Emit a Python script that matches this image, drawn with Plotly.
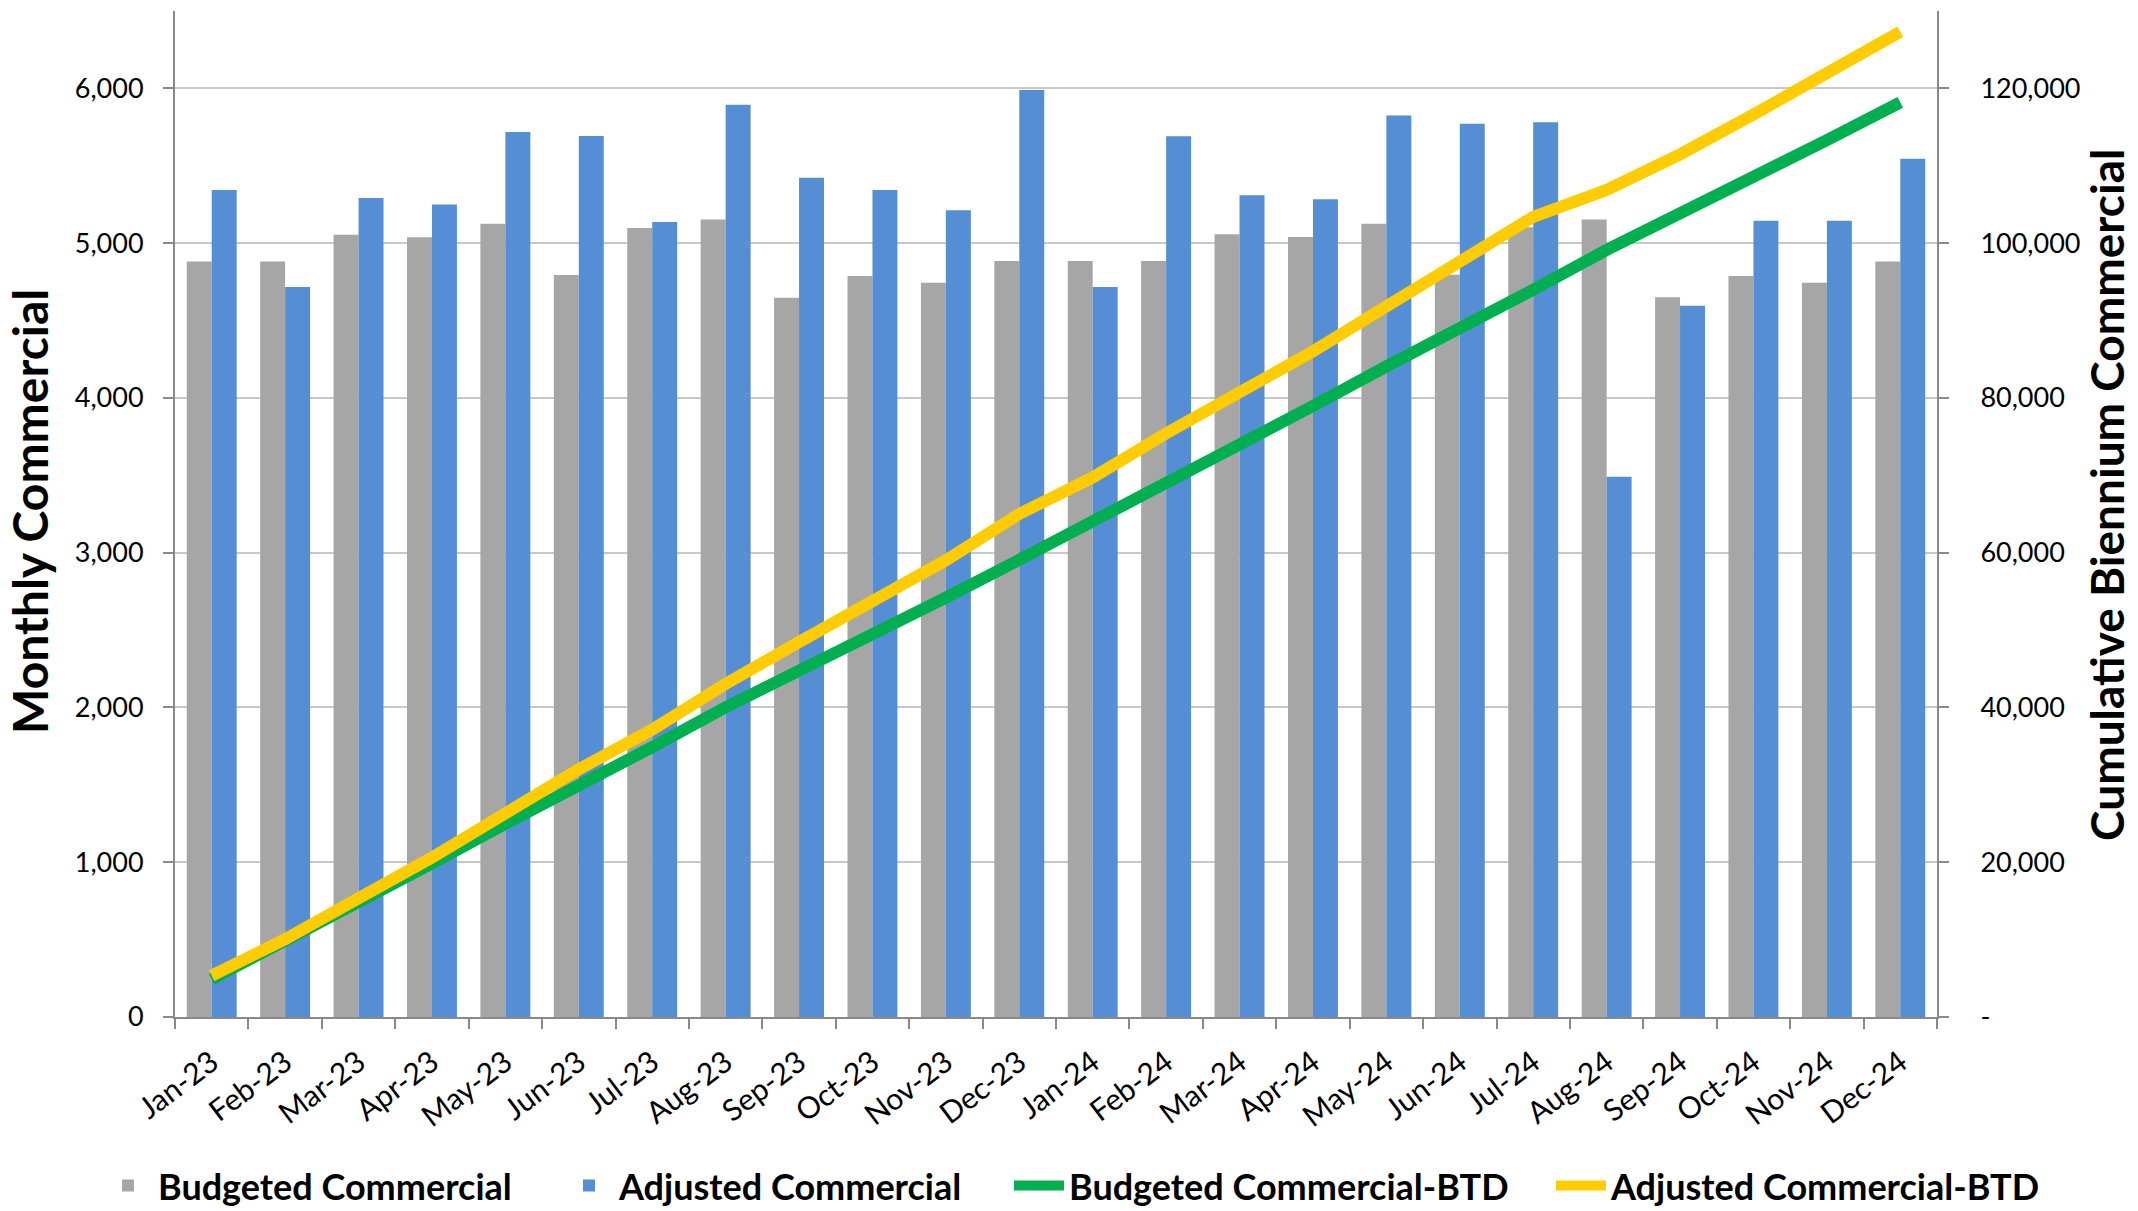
import plotly.graph_objects as go

months = ["Jan-23", "Feb-23", "Mar-23", "Apr-23", "May-23", "Jun-23", "Jul-23", "Aug-23",
          "Sep-23", "Oct-23", "Nov-23", "Dec-23", "Jan-24", "Feb-24", "Mar-24", "Apr-24",
          "May-24", "Jun-24", "Jul-24", "Aug-24", "Sep-24", "Oct-24", "Nov-24", "Dec-24"]

budgeted = [4881, 4881, 5055, 5038, 5126, 4795, 5098, 5153, 4648, 4787, 4744, 4884,
            4884, 4884, 5058, 5039, 5125, 4796, 5103, 5153, 4650, 4787, 4744, 4882]
adjusted = [5344, 4717, 5292, 5249, 5718, 5693, 5137, 5895, 5422, 5344, 5213, 5990,
            4716, 5690, 5310, 5284, 5824, 5772, 5781, 3490, 4596, 5145, 5145, 5545]

budgeted_btd = [4881, 9762, 14817, 19855, 24981, 29776, 34874, 40027, 44675, 49462, 54206, 59090,
                63974, 68858, 73916, 78955, 84080, 88876, 93979, 99132, 103782, 108569, 113313, 118195]
adjusted_btd = [5344, 10061, 15353, 20602, 26320, 32013, 37150, 43045, 48467, 53811, 59024, 65014,
                69730, 75420, 80730, 86014, 91838, 97610, 103391, 106881, 111477, 116622, 121767, 127312]

left_ticks = [0, 1000, 2000, 3000, 4000, 5000, 6000]
right_ticks = [0, 20000, 40000, 60000, 80000, 100000, 120000]
right_tick_text = ["-", "20,000", "40,000", "60,000", "80,000", "100,000", "120,000"]

FONT = "Lato, 'Open Sans', Arial, sans-serif"
GRAY = "#A6A6A6"
BLUE = "#558ED5"
GREEN = "#00B050"
YELLOW = "#FFCC00"

fig = go.Figure()
fig.add_trace(go.Bar(x=months, y=budgeted, name="Budgeted Commercial", legend="legend",
                     marker=dict(color=GRAY, line=dict(width=0))))
fig.add_trace(go.Bar(x=months, y=adjusted, name="Adjusted Commercial", legend="legend2",
                     marker=dict(color=BLUE, line=dict(width=0))))
fig.add_trace(go.Scatter(x=months, y=budgeted_btd, name="Budgeted Commercial-BTD", yaxis="y2",
                         legend="legend3", mode="lines", line=dict(color=GREEN, width=12)))
fig.add_trace(go.Scatter(x=months, y=adjusted_btd, name="Adjusted Commercial-BTD", yaxis="y2",
                         legend="legend4", mode="lines", line=dict(color=YELLOW, width=12)))

legend_font = dict(size=36, family=FONT, color="black", weight="bold")


def leg(xpx):
    return dict(orientation="h", x=xpx / 2138, xanchor="left", xref="container",
                y=0.021, yanchor="middle", yref="container",
                font=legend_font, itemwidth=50, bgcolor="rgba(0,0,0,0)")


fig.update_layout(
    width=2138, height=1211,
    margin=dict(l=175, r=201, t=11, b=194, autoexpand=False),
    paper_bgcolor="white", plot_bgcolor="white",
    barmode="group", bargap=0.32, bargroupgap=0,
    font=dict(family=FONT, color="black"),
    xaxis=dict(
        type="category", tickangle=-37, tickson="boundaries",
        ticks="outside", ticklen=10, tickwidth=2, tickcolor="#898989",
        showline=True, linecolor="#898989", linewidth=2,
        tickfont=dict(size=30, family=FONT, color="black"),
        showgrid=False, ticklabelstandoff=14, automargin=False,
    ),
    yaxis=dict(
        range=[0, 6500], tickvals=left_ticks, tickformat=",",
        ticks="outside", ticklen=10, tickwidth=2, tickcolor="#898989",
        showline=True, linecolor="#898989", linewidth=2,
        showgrid=True, gridcolor="#C8C8C8", gridwidth=2,
        tickfont=dict(size=27, family=FONT, color="black"),
        ticklabelstandoff=14, zeroline=False, automargin=False,
    ),
    yaxis2=dict(
        range=[0, 130000], overlaying="y", side="right",
        tickvals=right_ticks, ticktext=right_tick_text,
        ticks="outside", ticklen=10, tickwidth=2, tickcolor="#898989",
        showline=True, linecolor="#898989", linewidth=2,
        showgrid=False, zeroline=False,
        tickfont=dict(size=27, family=FONT, color="black"),
        ticklabelstandoff=26, automargin=False,
    ),
    legend=leg(98),
    legend2=leg(559),
    legend3=leg(1009),
    legend4=leg(1551),
    showlegend=True,
)

fig.add_annotation(text="<b>Monthly Commercial</b>", xref="paper", yref="paper",
                   x=-0.0823, y=0.503, xanchor="center", yanchor="middle",
                   textangle=-90, showarrow=False,
                   font=dict(size=48, family=FONT, color="black"))
fig.add_annotation(text="<b>Cumulative Biennium Commercial</b>", xref="paper", yref="paper",
                   x=1.0965, y=0.519, xanchor="center", yanchor="middle",
                   textangle=-90, showarrow=False,
                   font=dict(size=46, family=FONT, color="black"))

fig.write_html("out.html")
